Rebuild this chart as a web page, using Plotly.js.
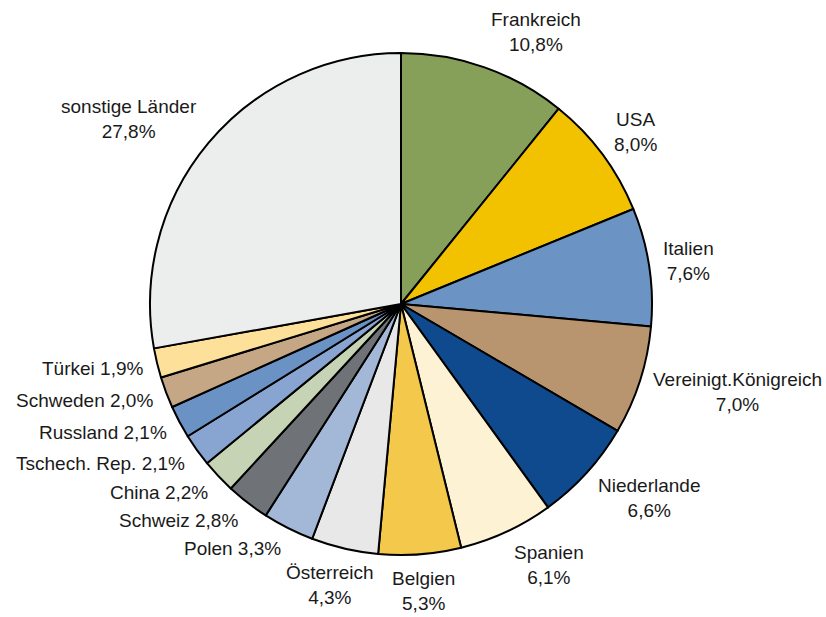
<!DOCTYPE html>
<html><head><meta charset="utf-8">
<script src="https://cdn.plot.ly/plotly-3.0.1.min.js"></script>
<style>html,body{margin:0;padding:0;background:#fff}</style>
</head><body>
<div id="chart" style="width:826px;height:617px"></div>
<script>
const countries = ["Frankreich","USA","Italien","Vereinigt.Königreich","Niederlande","Spanien","Belgien","Österreich","Polen","Schweiz","China","Tschech. Rep.","Russland","Schweden","Türkei","sonstige Länder"];
const shares = [10.8,8.0,7.6,7.0,6.6,6.1,5.3,4.3,3.3,2.8,2.2,2.1,2.1,2.0,1.9,27.8];
const twoLine = [true,true,true,true,true,true,true,true,false,false,false,false,false,false,false,true];
const colors = ["#86a05a","#f2c200","#6b93c4","#b8956e","#0f4a8e","#fdf2d3","#f4c84a","#e8e8e8","#a2b8d6","#6f7277","#c6d3b4","#87a5d0","#6b92c4","#c5a785","#fde09a","#eceeed"];

const W=826,H=617, L=150, R=174, T=53, B=62;
const plotW=W-L-R, plotH=H-T-B;
const cx=L+plotW/2, cy=T+plotH/2, rad=Math.min(plotW,plotH)/2;
const FS=19;
const fmt = v => v.toFixed(1).replace('.', ',') + '%';
const total = shares.reduce((a,b)=>a+b,0);
const annotations=[];
let cum=0;
shares.forEach((v,i)=>{
  const mid=(cum+v/2)/total*2*Math.PI; cum+=v;
  const s=Math.sin(mid), c=Math.cos(mid);
  const d=12;
  const px=cx+(rad+d)*s, py=cy-(rad+d)*c;
  const hh = twoLine[i]?25:11;
  const xanchor = s>0.3?'left':(s<-0.3?'right':'center');
  const halfW = countries[i].length*FS*0.55/2;
  annotations.push({
    xref:'paper',yref:'paper',
    x:(px-L)/plotW, y:1-(py-T)/plotH,
    xanchor:xanchor, yanchor:'middle', yshift: hh*c,
    xshift: xanchor==='center' ? s*halfW : 0,
    text: twoLine[i] ? countries[i]+'<br>'+fmt(v) : countries[i]+' '+fmt(v),
    showarrow:false, align:'center',
    font:{family:'Liberation Sans, Arial, sans-serif',size:FS,color:'#1a1a1a'}
  });
});

Plotly.newPlot('chart',[{
  type:'pie', labels:countries, values:shares, sort:false, direction:'clockwise', rotation:0,
  marker:{colors:colors,line:{color:'#000',width:2}},
  textinfo:'none', hoverinfo:'label+percent', showlegend:false
}],{
  width:W,height:H, margin:{l:L,r:R,t:T,b:B},
  paper_bgcolor:'#fff', showlegend:false, annotations:annotations
},{staticPlot:true});
</script>
</body></html>
